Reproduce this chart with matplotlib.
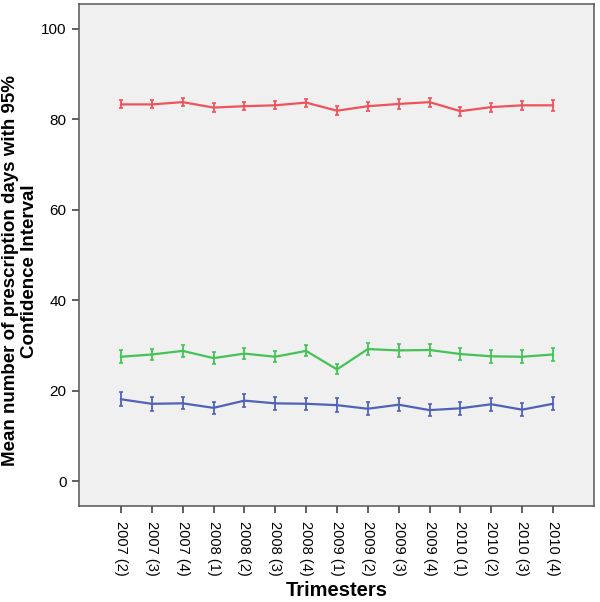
import numpy as np
import matplotlib
matplotlib.use("Agg")
import matplotlib.pyplot as plt

plt.rcParams['font.family'] = ['Liberation Sans', 'DejaVu Sans']

# Trimester labels
trimesters = ['2007 (2)', '2007 (3)', '2007 (4)', '2008 (1)', '2008 (2)',
              '2008 (3)', '2008 (4)', '2009 (1)', '2009 (2)', '2009 (3)',
              '2009 (4)', '2010 (1)', '2010 (2)', '2010 (3)', '2010 (4)']

# mean prescription days per group, with 95% CI half widths
red_mean = [83.3, 83.3, 83.8, 82.6, 82.9, 83.1, 83.7, 81.9, 82.9, 83.4,
            83.8, 81.8, 82.7, 83.1, 83.1]
red_ci = [0.9, 0.9, 0.9, 0.9, 0.9, 0.9, 0.9, 1.0, 1.0, 1.05,
          1.0, 1.0, 1.0, 1.05, 1.15]

green_mean = [27.5, 28.0, 28.8, 27.2, 28.2, 27.5, 28.8, 24.7, 29.2, 28.9,
              29.0, 28.1, 27.6, 27.5, 28.0]
green_ci = [1.4, 1.25, 1.3, 1.25, 1.25, 1.25, 1.2, 1.1, 1.4, 1.4,
            1.4, 1.4, 1.4, 1.45, 1.45]

blue_mean = [18.1, 17.1, 17.2, 16.2, 17.8, 17.2, 17.1, 16.8, 16.0, 16.9,
             15.7, 16.1, 17.0, 15.8, 17.1]
blue_ci = [1.5, 1.5, 1.35, 1.25, 1.5, 1.45, 1.35, 1.6, 1.45, 1.5,
           1.25, 1.4, 1.45, 1.4, 1.45]

series = [
    (red_mean, red_ci, '#F0525C'),
    (green_mean, green_ci, '#45C255'),
    (blue_mean, blue_ci, '#5062B8'),
]

fig = plt.figure(figsize=(6, 6.02), dpi=100)
ax = fig.add_axes([79 / 600, 1 - 506 / 602, 515 / 600, 502 / 602])
ax.set_facecolor('#F0F0F0')

x = np.arange(len(trimesters))
for mean, ci, color in series:
    ax.errorbar(x, mean, yerr=ci, color=color, lw=1.6, elinewidth=1.3,
                capsize=1.7, capthick=1.2)

ax.set_xlim(-1.36, 15.33)
ax.set_ylim(-5.5, 105.5)
ax.set_yticks([0, 20, 40, 60, 80, 100])
ax.set_xticks(x)
ax.set_xticklabels(trimesters, rotation=-90, fontsize=10.5)
ax.tick_params(axis='y', labelsize=11, length=5, width=1.2, color='#444444', pad=4)
ax.tick_params(axis='x', length=5, width=1.2, color='#444444', pad=6)

for sp in ax.spines.values():
    sp.set_color('#555555')
    sp.set_linewidth(1.1)

fig.text(20 / 600, 1 - 271 / 602,
         'Mean number of prescription days with 95%\nConfidence Interval',
         rotation=90, ha='center', va='center', fontsize=13.5,
         fontweight='bold', multialignment='center', linespacing=1.1)
fig.text(337 / 600, 1 - 590 / 602, 'Trimesters', ha='center', va='center',
         fontsize=14.5, fontweight='bold')

fig.savefig('out.png', dpi=100)
